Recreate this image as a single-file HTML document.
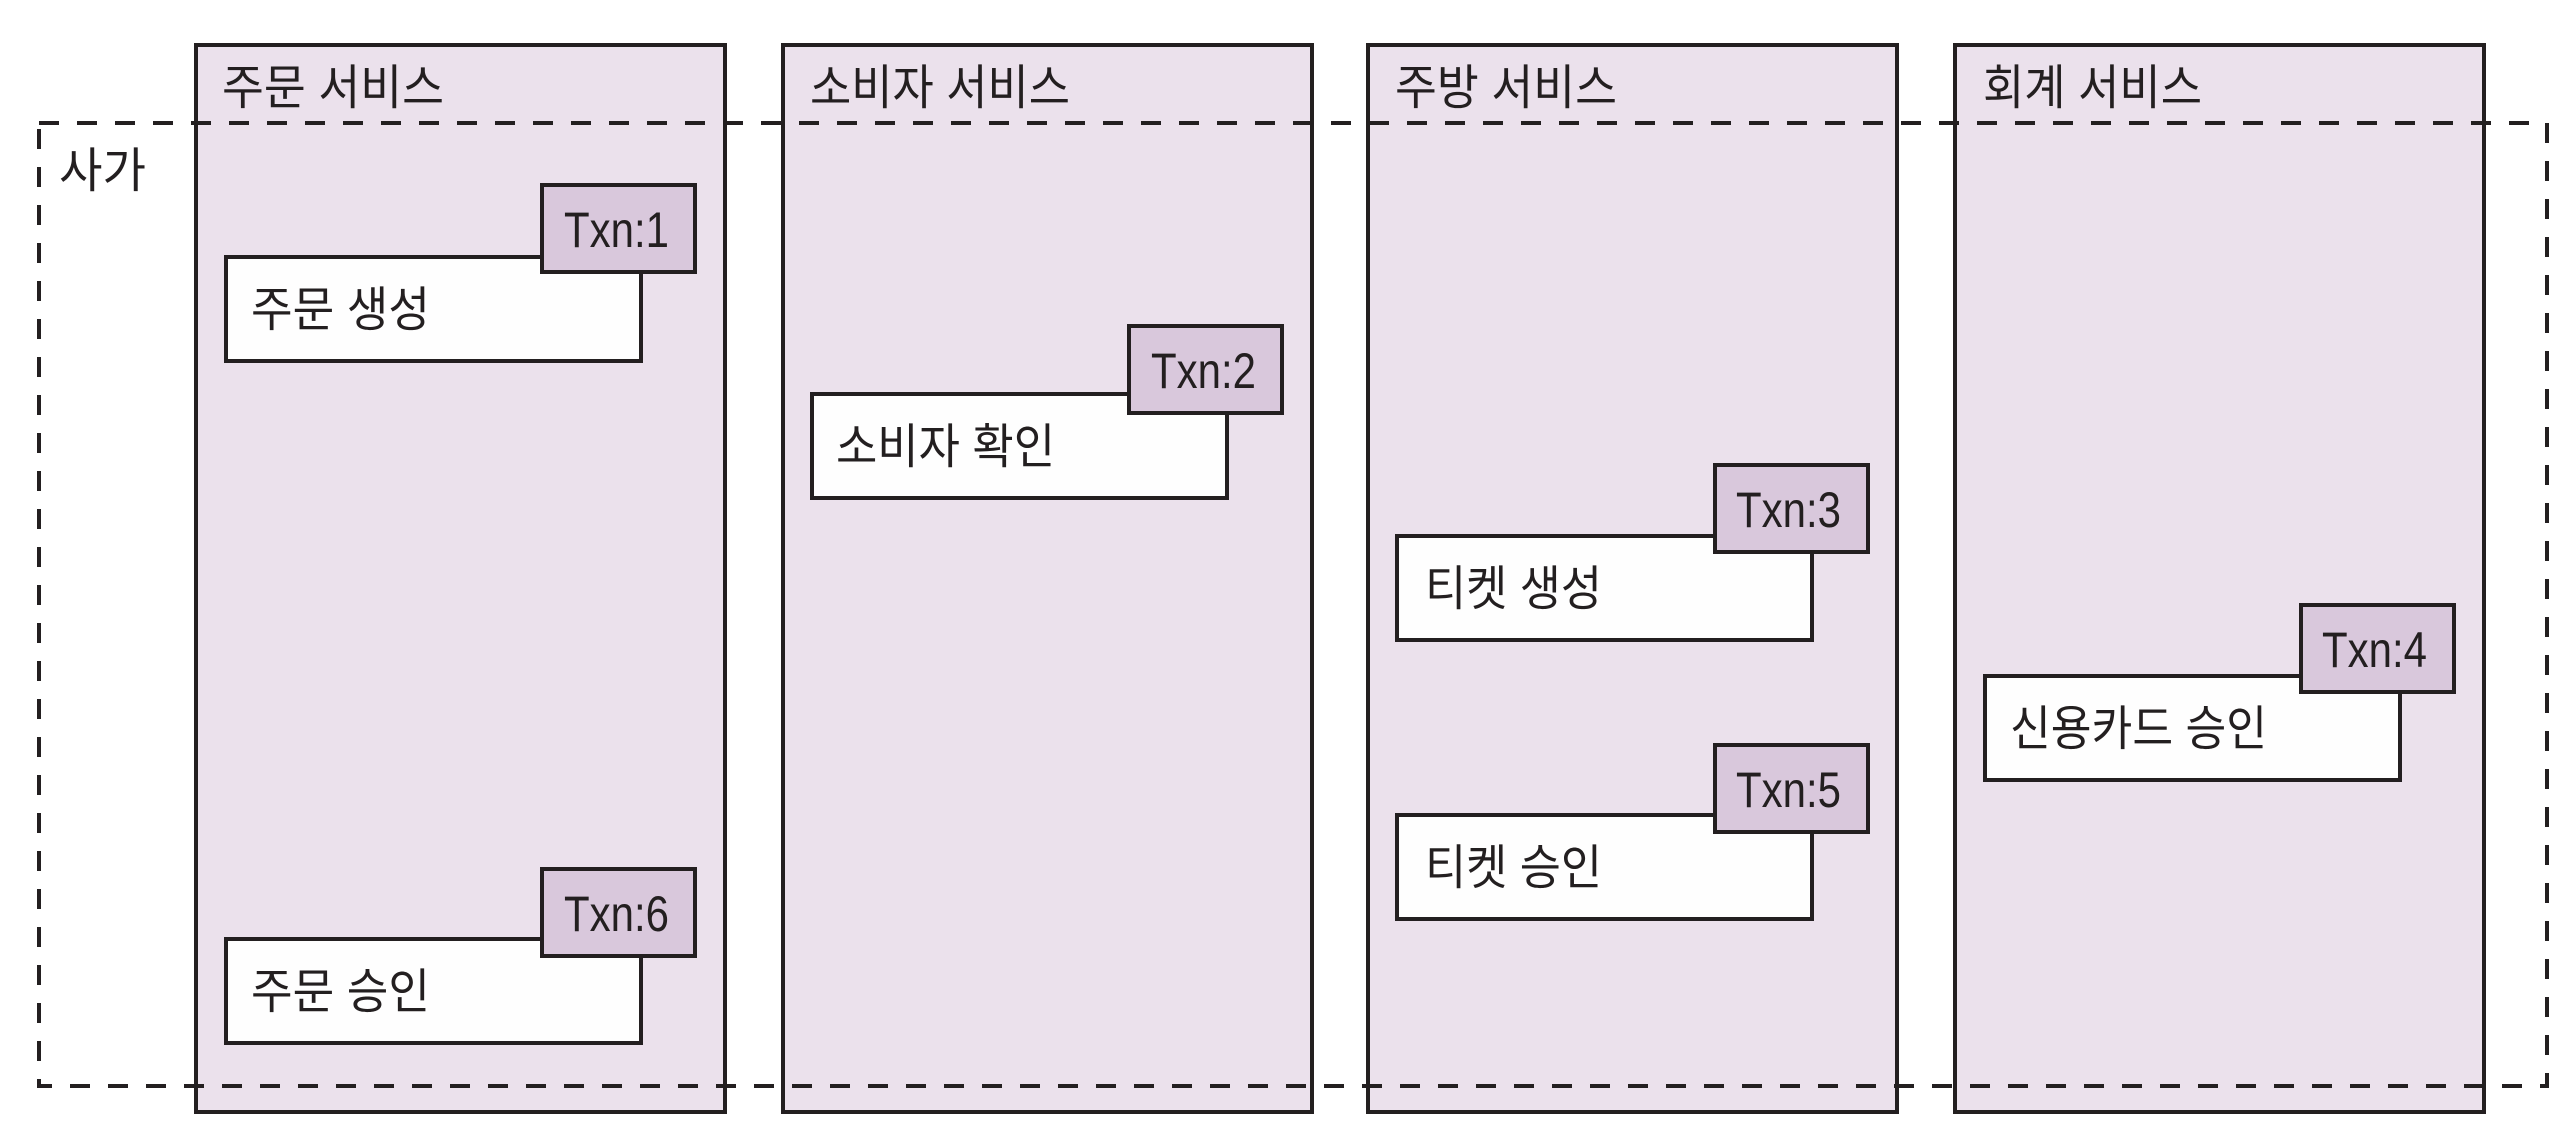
<!DOCTYPE html>
<html>
<head>
<meta charset="utf-8">
<style>
html,body{margin:0;padding:0;background:#fff;}
svg{display:block;}
text{font-family:"Liberation Sans","Noto Sans CJK KR",sans-serif;fill:#231f20;}
.k{font-size:48px;}
.t{font-size:50px;}
</style>
</head>
<body>
<svg width="2570" height="1140" viewBox="0 0 2570 1140" xmlns="http://www.w3.org/2000/svg">
<rect x="0" y="0" width="2570" height="1140" fill="#fff"/>
<g fill="#ebe1ec" stroke="#231f20" stroke-width="4">
<rect x="196" y="45" width="529" height="1067"/>
<rect x="783" y="45" width="529" height="1067"/>
<rect x="1368" y="45" width="529" height="1067"/>
<rect x="1955" y="45" width="529" height="1067"/>
</g>
<text class="k" x="222" y="104" textLength="222" lengthAdjust="spacingAndGlyphs">주문 서비스</text>
<text class="k" x="810" y="104" textLength="260" lengthAdjust="spacingAndGlyphs">소비자 서비스</text>
<text class="k" x="1395" y="104" textLength="222" lengthAdjust="spacingAndGlyphs">주방 서비스</text>
<text class="k" x="1983" y="104" textLength="219" lengthAdjust="spacingAndGlyphs">회계 서비스</text>
<text class="k" x="59" y="187" textLength="87" lengthAdjust="spacingAndGlyphs">사가</text>

<g stroke="#231f20" stroke-width="4">
<rect x="226" y="257" width="415" height="104" fill="#fefefe"/>
<rect x="542" y="185" width="153" height="87" fill="#d9c8dc"/>
<rect x="812" y="394" width="415" height="104" fill="#fefefe"/>
<rect x="1129" y="326" width="153" height="87" fill="#d9c8dc"/>
<rect x="1397" y="536" width="415" height="104" fill="#fefefe"/>
<rect x="1715" y="465" width="153" height="87" fill="#d9c8dc"/>
<rect x="1985" y="676" width="415" height="104" fill="#fefefe"/>
<rect x="2301" y="605" width="153" height="87" fill="#d9c8dc"/>
<rect x="1397" y="815" width="415" height="104" fill="#fefefe"/>
<rect x="1715" y="745" width="153" height="87" fill="#d9c8dc"/>
<rect x="226" y="939" width="415" height="104" fill="#fefefe"/>
<rect x="542" y="869" width="153" height="87" fill="#d9c8dc"/>
</g>

<text class="k" x="251" y="326" textLength="179" lengthAdjust="spacingAndGlyphs">주문 생성</text>
<text class="k" x="836" y="463" textLength="219" lengthAdjust="spacingAndGlyphs">소비자 확인</text>
<text class="k" x="1425" y="605" textLength="177" lengthAdjust="spacingAndGlyphs">티켓 생성</text>
<text class="k" x="2010" y="745" textLength="257" lengthAdjust="spacingAndGlyphs">신용카드 승인</text>
<text class="k" x="1425" y="884" textLength="177" lengthAdjust="spacingAndGlyphs">티켓 승인</text>
<text class="k" x="251" y="1008" textLength="179" lengthAdjust="spacingAndGlyphs">주문 승인</text>

<text class="t" x="564" y="247" textLength="105" lengthAdjust="spacingAndGlyphs">Txn:1</text>
<text class="t" x="1151" y="388" textLength="105" lengthAdjust="spacingAndGlyphs">Txn:2</text>
<text class="t" x="1736" y="527" textLength="105" lengthAdjust="spacingAndGlyphs">Txn:3</text>
<text class="t" x="2322" y="667" textLength="105" lengthAdjust="spacingAndGlyphs">Txn:4</text>
<text class="t" x="1736" y="807" textLength="105" lengthAdjust="spacingAndGlyphs">Txn:5</text>
<text class="t" x="564" y="931" textLength="105" lengthAdjust="spacingAndGlyphs">Txn:6</text>

<rect x="39" y="123" width="2508" height="963" fill="none" stroke="#231f20" stroke-width="4" stroke-dasharray="20 18"/>
</svg>
</body>
</html>
